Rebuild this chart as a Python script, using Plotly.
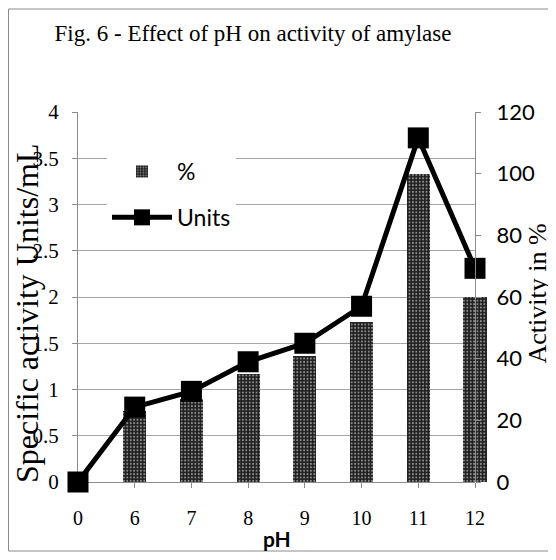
import plotly.graph_objects as go

# ---- data ----
pH = ["0", "6", "7", "8", "9", "10", "11", "12"]
activity_pct = [0, 23, 27, 35, 41, 52, 100, 60]
units = [0, 0.81, 0.98, 1.30, 1.50, 1.90, 3.72, 2.31]
left_range = [0, 4]
right_range = [0, 120]

# ---- layout geometry (pixels; page has an 8px body margin) ----
OFF = 8
W, H = 548, 552
L, R, T, B = 70, 61, 104, 78
PW, PH = W - L - R, H - T - B
main_frac = 397 / PW          # span between left and right value axes
xpos = list(range(len(pH)))

def px(xs):  # screen x -> paper
    return (xs - OFF - L) / PW

def py(ys):  # screen y -> paper
    return (H - B - (ys - OFF)) / PH

fig = go.Figure()

# base subplot: carries the left axis, grid and category axis
fig.add_trace(go.Scatter(
    x=xpos, y=units, xaxis="x", yaxis="y", mode="markers",
    marker=dict(opacity=0), showlegend=False, hoverinfo="skip",
))
fig.add_trace(go.Bar(
    x=xpos, y=activity_pct, name="%", width=0.41,
    xaxis="x2", yaxis="y2", legendgroup="a",
    marker=dict(color="#1e1e1e", line=dict(width=0),
                pattern=dict(shape=".", bgcolor="#1e1e1e", fgcolor="#ffffff",
                             size=3.4, solidity=0.28)),
))
fig.add_trace(go.Scatter(
    x=xpos, y=units, name="Units", mode="lines+markers",
    xaxis="x2", yaxis="y3", legendgroup="b", cliponaxis=False,
    line=dict(color="black", width=5),
    marker=dict(symbol="square", size=21, color="black"),
))

fig.update_layout(
    width=W, height=H,
    margin=dict(l=L, r=R, t=T, b=B, autoexpand=False),
    paper_bgcolor="white", plot_bgcolor="rgba(0,0,0,0)",
    font=dict(family="Liberation Serif", size=20, color="black"),
    title=dict(text="Fig. 6 - Effect of pH on activity of amylase",
               x=(253 - OFF) / W, xref="container", xanchor="center",
               y=1 - (33 - OFF) / H, yref="container", yanchor="middle",
               font=dict(family="Liberation Serif", size=23, color="black")),
    xaxis=dict(domain=[0, main_frac], range=[0, len(pH) - 1],
               tickvals=xpos, ticktext=pH, showgrid=False, zeroline=False,
               showline=True, linecolor="#8c8c8c", linewidth=1,
               ticks="outside", ticklen=5, tickcolor="#8c8c8c",
               ticklabelstandoff=13, automargin=False,
               tickfont=dict(family="Liberation Serif", size=20), anchor="y"),
    yaxis=dict(domain=[0, 1], range=left_range, dtick=0.5,
               showgrid=True, gridcolor="#a6a6a6", gridwidth=1, zeroline=False,
               showline=True, linecolor="#8c8c8c", linewidth=1,
               ticks="outside", ticklen=5, tickcolor="#8c8c8c",
               ticklabelstandoff=9, automargin=False,
               tickfont=dict(family="Liberation Serif", size=21), anchor="x"),
    xaxis2=dict(domain=[0, 1], range=[0, (len(pH) - 1) / main_frac],
                visible=False, anchor="y2", automargin=False),
    yaxis2=dict(domain=[0, 1], range=right_range, dtick=20, side="right",
                anchor="free", position=main_frac, showgrid=False, zeroline=False,
                showline=True, linecolor="#8c8c8c", linewidth=1,
                ticks="outside", ticklen=5, tickcolor="#8c8c8c",
                ticklabelstandoff=11, automargin=False,
                tickfont=dict(family="Lato", size=22)),
    yaxis3=dict(range=left_range, overlaying="y2", anchor="x2", visible=False,
                automargin=False),
    legend=dict(x=px(107), y=py(150), xanchor="left", yanchor="top",
                bgcolor="white", borderwidth=0, itemwidth=60,
                traceorder="grouped", tracegroupgap=13,
                font=dict(family="Lato", size=23)),
    showlegend=True,
    bargap=0,
)

fig.add_shape(type="rect", xref="paper", yref="paper",
              x0=px(8.5), x1=px(549), y0=py(551), y1=py(9),
              line=dict(color="#8c8c8c", width=1), layer="below")

fig.add_annotation(text="Specific activity Units/mL", textangle=-90,
                   xref="paper", yref="paper", x=px(27), y=py(314),
                   xanchor="center", yanchor="middle",
                   showarrow=False, font=dict(family="Liberation Serif", size=32))
fig.add_annotation(text="Activity in %", textangle=-90,
                   xref="paper", yref="paper", x=px(536.5), y=py(294),
                   xanchor="center", yanchor="middle",
                   showarrow=False, font=dict(family="Liberation Serif", size=26))
fig.add_annotation(text="<b>pH</b>", xref="paper", yref="paper",
                   x=px(277), y=py(538), xanchor="center", yanchor="middle",
                   showarrow=False, font=dict(family="Lato", size=21))

fig.write_html("out.html")
